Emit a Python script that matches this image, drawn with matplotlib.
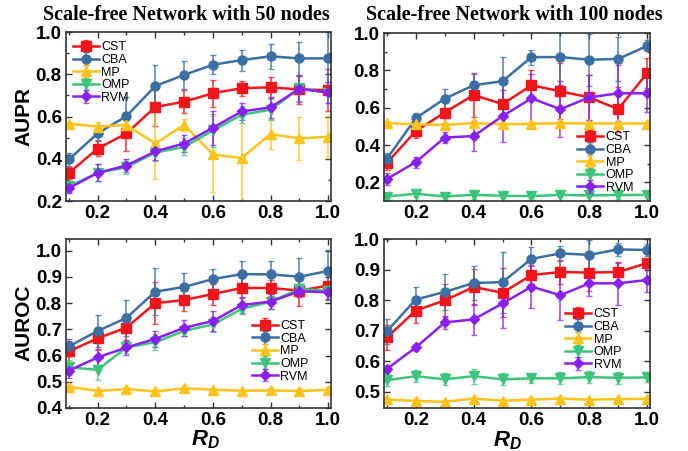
import matplotlib

matplotlib.use('Agg')
import matplotlib.pyplot as plt
import numpy as np

plt.rcParams['font.family'] = ['Liberation Sans', 'DejaVu Sans']
plt.rcParams['mathtext.fontset'] = 'custom'
plt.rcParams['mathtext.it'] = 'Liberation Sans:italic:bold'
plt.rcParams['mathtext.rm'] = 'Liberation Sans:bold'

rd = [0.1, 0.2, 0.3, 0.4, 0.5, 0.6, 0.7, 0.8, 0.9, 1.0]
methods = ['CST', 'CBA', 'MP', 'OMP', 'RVM']
colors = ['#f0141b', '#3b6fa3', '#ffc21a', '#3cc47a', '#8a1ff2']
markers = ['s', 'o', '^', 'v', 'D']

# AUPR, 50 nodes
aupr50 = {
    'CST': [0.333, 0.448, 0.520, 0.645, 0.670, 0.710, 0.734, 0.738, 0.728, 0.725],
    'CBA': [0.397, 0.520, 0.602, 0.744, 0.797, 0.845, 0.867, 0.885, 0.875, 0.875],
    'MP':  [0.566, 0.552, 0.560, 0.472, 0.560, 0.421, 0.403, 0.517, 0.496, 0.504],
    'OMP': [0.269, 0.333, 0.360, 0.429, 0.456, 0.534, 0.608, 0.632, 0.733, 0.712],
    'RVM': [0.261, 0.333, 0.368, 0.435, 0.472, 0.547, 0.624, 0.643, 0.731, 0.714],
}
aupr50_err = {
    'CST': [0.03, 0.035, 0.085, 0.09, 0.055, 0.065, 0.035, 0.05, 0.07, 0.10],
    'CBA': [0.03, 0.03, 0.09, 0.10, 0.065, 0.045, 0.05, 0.06, 0.08, 0.16],
    'MP':  [0.01, 0.02, 0.02, 0.17, 0.03, 0.18, 0.20, 0.07, 0.10, 0.10],
    'OMP': [0.025, 0.04, 0.03, 0.04, 0.04, 0.08, 0.04, 0.05, 0.06, 0.05],
    'RVM': [0.025, 0.04, 0.03, 0.04, 0.04, 0.08, 0.04, 0.05, 0.06, 0.05],
}

# AUPR, 100 nodes
aupr100 = {
    'CST': [0.304, 0.475, 0.574, 0.668, 0.619, 0.720, 0.688, 0.655, 0.592, 0.785],
    'CBA': [0.326, 0.544, 0.648, 0.720, 0.742, 0.871, 0.871, 0.857, 0.861, 0.931],
    'MP':  [0.517, 0.511, 0.508, 0.517, 0.511, 0.513, 0.517, 0.515, 0.515, 0.515],
    'OMP': [0.124, 0.139, 0.124, 0.133, 0.128, 0.126, 0.133, 0.130, 0.132, 0.133],
    'RVM': [0.218, 0.308, 0.440, 0.448, 0.555, 0.650, 0.592, 0.655, 0.677, 0.677],
}
aupr100_err = {
    'CST': [0.04, 0.04, 0.06, 0.12, 0.12, 0.08, 0.15, 0.12, 0.12, 0.08],
    'CBA': [0.03, 0.03, 0.05, 0.06, 0.13, 0.04, 0.15, 0.14, 0.12, 0.03],
    'MP':  [0.01, 0.01, 0.01, 0.01, 0.01, 0.01, 0.01, 0.01, 0.01, 0.01],
    'OMP': [0.02, 0.02, 0.02, 0.02, 0.01, 0.01, 0.01, 0.01, 0.02, 0.01],
    'RVM': [0.03, 0.03, 0.03, 0.08, 0.14, 0.13, 0.15, 0.12, 0.15, 0.10],
}

# AUROC, 50 nodes
auroc50 = {
    'CST': [0.616, 0.666, 0.707, 0.800, 0.812, 0.835, 0.858, 0.858, 0.848, 0.867],
    'CBA': [0.635, 0.694, 0.744, 0.844, 0.862, 0.892, 0.911, 0.910, 0.901, 0.923],
    'MP':  [0.481, 0.465, 0.472, 0.463, 0.475, 0.470, 0.466, 0.467, 0.465, 0.469],
    'OMP': [0.555, 0.546, 0.631, 0.651, 0.694, 0.719, 0.778, 0.806, 0.854, 0.847],
    'RVM': [0.543, 0.593, 0.631, 0.664, 0.706, 0.732, 0.793, 0.806, 0.845, 0.842],
}
auroc50_err = {
    'CST': [0.04, 0.04, 0.05, 0.08, 0.04, 0.04, 0.04, 0.03, 0.06, 0.05],
    'CBA': [0.03, 0.06, 0.07, 0.09, 0.055, 0.04, 0.05, 0.05, 0.07, 0.08],
    'MP':  [0.008, 0.008, 0.008, 0.008, 0.008, 0.008, 0.008, 0.008, 0.008, 0.008],
    'OMP': [0.03, 0.04, 0.02, 0.03, 0.02, 0.03, 0.02, 0.03, 0.02, 0.03],
    'RVM': [0.03, 0.03, 0.03, 0.03, 0.03, 0.04, 0.03, 0.03, 0.02, 0.03],
}

# AUROC, 100 nodes
auroc100 = {
    'CST': [0.678, 0.766, 0.799, 0.843, 0.824, 0.882, 0.892, 0.890, 0.892, 0.921],
    'CBA': [0.698, 0.802, 0.827, 0.856, 0.859, 0.935, 0.953, 0.948, 0.966, 0.964],
    'MP':  [0.475, 0.470, 0.467, 0.478, 0.471, 0.474, 0.478, 0.474, 0.476, 0.477],
    'OMP': [0.538, 0.551, 0.541, 0.551, 0.541, 0.544, 0.544, 0.548, 0.546, 0.547],
    'RVM': [0.575, 0.645, 0.727, 0.737, 0.789, 0.844, 0.816, 0.855, 0.855, 0.866],
}
auroc100_err = {
    'CST': [0.04, 0.04, 0.055, 0.06, 0.08, 0.03, 0.04, 0.06, 0.03, 0.01],
    'CBA': [0.04, 0.04, 0.06, 0.055, 0.10, 0.04, 0.025, 0.05, 0.02, 0.02],
    'MP':  [0.005, 0.005, 0.005, 0.005, 0.005, 0.005, 0.005, 0.005, 0.005, 0.005],
    'OMP': [0.02, 0.02, 0.02, 0.025, 0.02, 0.015, 0.02, 0.02, 0.02, 0.015],
    'RVM': [0.01, 0.01, 0.02, 0.05, 0.08, 0.07, 0.08, 0.04, 0.07, 0.04],
}

W, H = 688, 451
fig = plt.figure(figsize=(W / 100, H / 100), dpi=100)


def px_axes(left, top, right, bottom):
    return fig.add_axes([left / W, 1 - bottom / H, (right - left) / W, (bottom - top) / H])


panels = [
    (px_axes(66, 32, 331, 201), aupr50, aupr50_err, (0.2, 1.0), [0.2, 0.4, 0.6, 0.8, 1.0], (0.025, 0.945)),
    (px_axes(384, 33, 650, 201), aupr100, aupr100_err, (0.1, 1.0), [0.2, 0.4, 0.6, 0.8, 1.0], (0.725, 0.415)),
    (px_axes(66, 239, 331, 408), auroc50, auroc50_err, (0.4, 1.045), [0.4, 0.5, 0.6, 0.7, 0.8, 0.9, 1.0], (0.70, 0.52)),
    (px_axes(384, 239, 650, 408), auroc100, auroc100_err, (0.447, 1.0), [0.5, 0.6, 0.7, 0.8, 0.9, 1.0], (0.68, 0.59)),
]

for ax, data, err, ylim, yticks, anchor in panels:
    for m, c, mk in zip(methods, colors, markers):
        cont = ax.errorbar(rd, data[m], yerr=err[m], color=c, marker=mk, markersize=6.5 if mk != 'D' else 5.5,
                           linewidth=1.8, elinewidth=1.3, capsize=2.5, capthick=1.0, label=m)
        for coll in cont[2]:
            coll.set_alpha(0.75)
        for cap in cont[1]:
            cap.set_alpha(0.75)
    ax.set_xlim(0.09, 1.01)
    ax.set_ylim(*ylim)
    ax.set_xticks([0.2, 0.4, 0.6, 0.8, 1.0])
    ax.set_xticks([0.1, 0.3, 0.5, 0.7, 0.9], minor=True)
    ax.set_yticks(yticks)
    if yticks[1] - yticks[0] > 0.15:
        ax.set_yticks([v + 0.1 for v in yticks[:-1]], minor=True)
    ax.set_xticklabels(['0.2', '0.4', '0.6', '0.8', '1.0'])
    ax.set_yticklabels([f'{v:.1f}' for v in yticks])
    ax.tick_params(which='both', direction='in', top=True, right=True, width=1.0, color='#333333')
    ax.tick_params(which='major', length=4, labelsize=13.5, pad=3)
    ax.tick_params(which='minor', length=2)
    for lab in ax.get_xticklabels() + ax.get_yticklabels():
        lab.set_fontweight('bold')
    for sp in ax.spines.values():
        sp.set_linewidth(1.2)
        sp.set_color('#333333')
    ax.legend(loc='upper left', bbox_to_anchor=anchor, frameon=False, fontsize=9,
              handlelength=2.1, handletextpad=0.2, labelspacing=0.05, borderaxespad=0, borderpad=0)

fig.text(186 / W, 1 - 15 / H, 'Scale-free Network with 50 nodes', ha='center', va='center',
         family='Liberation Serif', fontweight='bold', fontsize=14.5)
fig.text(514 / W, 1 - 15 / H, 'Scale-free Network with 100 nodes', ha='center', va='center',
         family='Liberation Serif', fontweight='bold', fontsize=14.5)
fig.text(24 / W, 1 - 117 / H, 'AUPR', rotation=90, ha='center', va='center', fontweight='bold', fontsize=15)
fig.text(24 / W, 1 - 323 / H, 'AUROC', rotation=90, ha='center', va='center', fontweight='bold', fontsize=15)
fig.text(205 / W, 1 - 440 / H, '$R_D$', ha='center', va='center', fontsize=16)
fig.text(507 / W, 1 - 441 / H, '$R_D$', ha='center', va='center', fontsize=16)

fig.savefig('out.png', dpi=100)
